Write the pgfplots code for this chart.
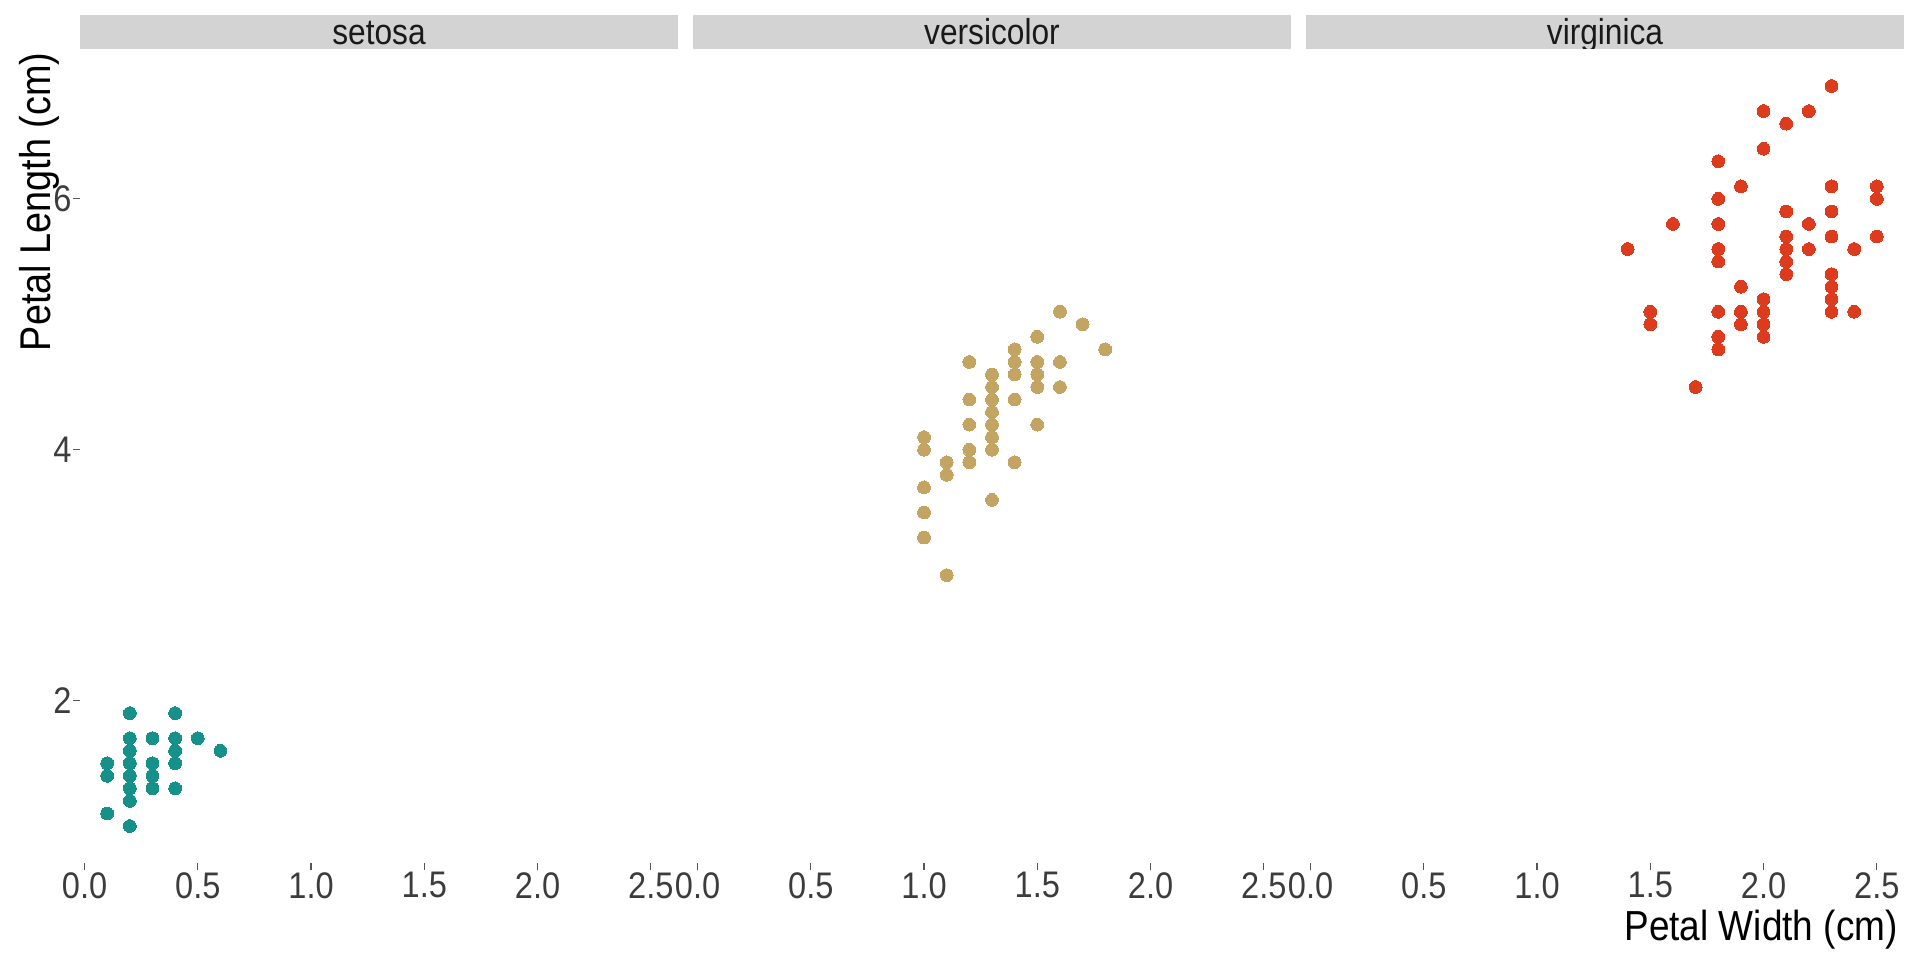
\documentclass[border=0pt]{standalone}
\usepackage{fontspec}
\setmainfont{Liberation Sans}[FakeStretch=0.88]
\usepackage{pgfplots}
\pgfplotsset{compat=1.18}
\definecolor{cset}{HTML}{16918A}
\definecolor{cver}{HTML}{C4A463}
\definecolor{cvir}{HTML}{DD3B1E}
\definecolor{stripgray}{HTML}{D3D3D3}
\definecolor{ticktxt}{HTML}{3C3C3C}
\definecolor{tickcol}{HTML}{555555}

\pgfplotsset{
  panel/.style={
    anchor=south west, width=299bp, height=407bp, scale only axis,
    xmin=-0.02, xmax=2.62, ymin=0.705, ymax=7.195,
    axis line style={draw=none},
    xtick pos=bottom, ytick pos=left,
    xtick={0,0.5,1,1.5,2,2.5},
    xticklabels={0.0,0.5,1.0,1.5,2.0,2.5},
    tick align=outside, major tick length=3.5bp,
    tick style={color=tickcol, line width=0.6bp},
    xticklabel style={font=\fontsize{18.5bp}{20bp}\selectfont, text=ticktxt, inner sep=1bp},
    yticklabel style={font=\fontsize{18.5bp}{20bp}\selectfont, text=ticktxt, inner sep=0.5bp},
    every axis plot/.append style={only marks, mark=*, mark size=3.2bp, line width=0pt},
  }
}

\begin{document}
\begin{tikzpicture}
\path[use as bounding box] (0,0) rectangle (960bp,480bp);

% ---------- setosa ----------
\begin{axis}[panel, at={(40bp,48.5bp)}, ytick={2,4,6}, yticklabels={2,4,6}]
\addplot[cset, mark options={fill=cset, draw=cset}] table {
x y
0.2 1.4
0.2 1.4
0.2 1.3
0.2 1.5
0.2 1.4
0.4 1.7
0.3 1.4
0.2 1.5
0.2 1.4
0.1 1.5
0.2 1.5
0.2 1.6
0.1 1.4
0.1 1.1
0.2 1.2
0.4 1.5
0.4 1.3
0.3 1.4
0.3 1.7
0.3 1.5
0.2 1.7
0.4 1.5
0.2 1.0
0.5 1.7
0.2 1.9
0.2 1.6
0.4 1.6
0.2 1.5
0.2 1.4
0.2 1.6
0.2 1.6
0.4 1.5
0.1 1.5
0.2 1.4
0.2 1.5
0.2 1.2
0.2 1.3
0.1 1.4
0.2 1.3
0.2 1.5
0.3 1.3
0.3 1.3
0.2 1.3
0.6 1.6
0.4 1.9
0.3 1.4
0.2 1.6
0.2 1.4
0.2 1.5
0.2 1.4
};
\end{axis}

% ---------- versicolor ----------
\begin{axis}[panel, at={(346.5bp,48.5bp)}, ytick=\empty]
\addplot[cver, mark options={fill=cver, draw=cver}] table {
x y
1.4 4.7
1.5 4.5
1.5 4.9
1.3 4.0
1.5 4.6
1.3 4.5
1.6 4.7
1.0 3.3
1.3 4.6
1.4 3.9
1.0 3.5
1.5 4.2
1.0 4.0
1.4 4.7
1.3 3.6
1.4 4.4
1.5 4.5
1.0 4.1
1.5 4.5
1.1 3.9
1.8 4.8
1.3 4.0
1.5 4.9
1.2 4.7
1.3 4.3
1.4 4.4
1.4 4.8
1.7 5.0
1.5 4.5
1.0 3.5
1.1 3.8
1.0 3.7
1.2 3.9
1.6 5.1
1.5 4.5
1.6 4.5
1.5 4.7
1.3 4.4
1.3 4.1
1.3 4.0
1.2 4.4
1.4 4.6
1.2 4.0
1.0 3.3
1.3 4.2
1.2 4.2
1.3 4.2
1.3 4.3
1.1 3.0
1.3 4.1
};
\end{axis}

% ---------- virginica ----------
\begin{axis}[panel, at={(653bp,48.5bp)}, ytick=\empty]
\addplot[cvir, mark options={fill=cvir, draw=cvir}] table {
x y
2.5 6.0
1.9 5.1
2.1 5.9
1.8 5.6
2.2 5.8
2.1 6.6
1.7 4.5
1.8 6.3
1.8 5.8
2.5 6.1
2.0 5.1
1.9 5.3
2.1 5.5
2.0 5.0
2.4 5.1
2.3 5.3
1.8 5.5
2.2 6.7
2.3 6.9
1.5 5.0
2.3 5.7
2.0 4.9
2.0 6.7
1.8 4.9
2.1 5.7
1.8 6.0
1.8 4.8
1.8 4.9
2.1 5.6
1.6 5.8
1.9 6.1
2.0 6.4
2.2 5.6
1.5 5.1
1.4 5.6
2.3 6.1
2.4 5.6
1.8 5.5
1.8 4.8
2.1 5.4
2.4 5.6
2.3 5.1
1.9 5.1
2.3 5.9
2.5 5.7
2.3 5.2
1.9 5.0
2.0 5.2
2.3 5.4
1.8 5.1
};
\end{axis}

% ---------- strips ----------
\foreach \xl/\lab in {40/setosa, 346.5/versicolor, 653/virginica}{
  \begin{scope}
    \clip (\xl bp,455.5bp) rectangle ++(299bp,17bp);
    \fill[stripgray] (\xl bp,455.5bp) rectangle ++(299bp,17bp);
    \node[anchor=base, inner sep=0pt, text=black!90,
          font=\fontsize{18bp}{20bp}\selectfont]
      at (\xl bp+149.5bp, 457.5bp) {\lab};
  \end{scope}
}

% ---------- axis titles ----------
\node[anchor=base east, inner sep=0pt, font=\fontsize{21bp}{23bp}\selectfont]
  at (949bp,10bp) {Petal Width (cm)};
\node[rotate=90, anchor=base east, inner sep=0pt, font=\fontsize{21.5bp}{23bp}\selectfont]
  at (25bp,454bp) {Petal Length (cm)};
\end{tikzpicture}
\end{document}
